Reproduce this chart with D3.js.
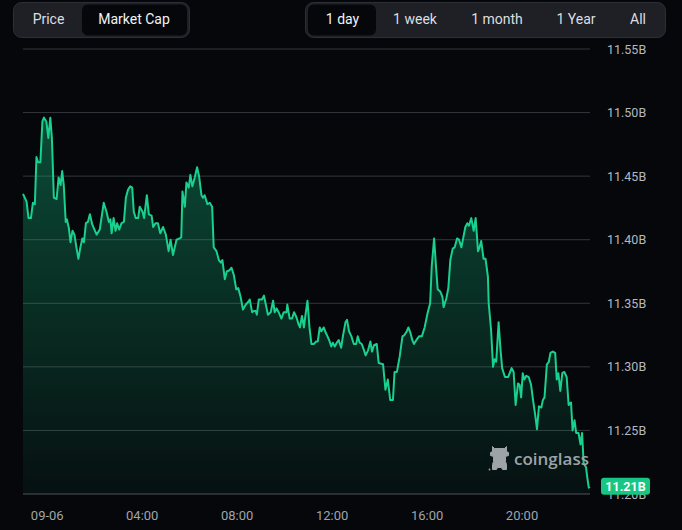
<!DOCTYPE html>
<html>
<head>
<meta charset="utf-8">
<script src="https://cdn.jsdelivr.net/npm/d3@7"></script>
<style>
  body { margin: 0; background: #05070b; }
  svg { display: block; font-family: Roboto, "Noto Sans", sans-serif; }
</style>
</head>
<body>
<div id="chart-container"></div>
<script>
// market cap, 1 day view (values in billions)
const startDay = new Date(2024, 8, 6, 0, 0);

// minutes from 09-06 00:00
const minutes = [
  -60,-51,-46,-40,-35,-30,-26,-22,-16,-11,-7,-1,4,9,13,18,25,30,35,39,
  43,48,51,56,60,65,70,75,80,85,90,94,99,104,109,115,126,134,144,151,
  157,161,164,169,174,178,183,189,195,200,205,211,216,220,225,231,235,242,246,
  253,258,265,269,275,281,287,294,301,308,313,319,328,336,340,343,349,353,359,363,
  368,374,380,385,391,395,399,406,412,418,422,429,435,440,444,450,455,462,467,473,
  479,484,490,496,503,509,513,519,523,528,531,536,
  544,549,553,559,566,572,576,581,586,593,599,606,608,614,620,625,631,637,640,645,
  650,654,659,664,669,675,681,685,690,694,700,705,711,715,719,723,728,733,738,744,
  749,755,759,764,770,776,782,786,791,796,802,806,812,818,822,827,
  834,839,850,856,862,868,875,879,885,892,899,904,910,914,919,924,928,934,941,948,
  955,963,969,973,979,984,988,995,1000,1003,1010,1015,1020,1026,1031,1037,1042,1048,1053,1058,
  1063,1067,1073,1079,1084,1090,1094,1098,1104,1109,1115,1117,
  1123,1128,1132,1136,1142,1147,1151,1158,1166,1175,1180,1185,1191,1195,1199,1203,1207,1212,1218,1224,
  1229,1235,1239,1244,1250,1254,1258,1264,1269,1273,1279,1285,1289,1293,1298,1303,1308,1314,1319,1325,
  1329,1334,1338,1344,1349,1353,1357,1363,1367,1370,1373
];

const marketCap = [
  11.436,11.430,11.417,11.417,11.429,11.428,11.465,11.461,11.461,11.493,11.496,11.493,11.480,11.496,11.480,11.433,11.432,11.449,11.443,11.454,
  11.443,11.414,11.416,11.409,11.398,11.407,11.404,11.394,11.385,11.394,11.401,11.398,11.413,11.414,11.420,11.412,11.404,11.408,11.429,11.422,
  11.414,11.416,11.405,11.417,11.407,11.413,11.408,11.413,11.414,11.433,11.439,11.442,11.441,11.422,11.417,11.417,11.426,11.422,11.417,
  11.435,11.420,11.419,11.410,11.413,11.413,11.405,11.410,11.404,11.391,11.400,11.388,11.400,11.401,11.402,11.438,11.426,11.445,11.441,11.451,
  11.442,11.449,11.457,11.450,11.435,11.433,11.435,11.428,11.429,11.426,11.394,11.391,11.384,11.382,11.384,11.369,11.375,11.376,11.378,11.372,
  11.361,11.362,11.355,11.345,11.349,11.351,11.353,11.343,11.344,11.344,11.341,11.353,
  11.353,11.356,11.350,11.341,11.343,11.352,11.343,11.346,11.343,11.338,11.343,11.343,11.349,11.338,11.338,11.343,11.339,11.333,11.331,11.340,
  11.331,11.341,11.352,11.331,11.318,11.318,11.320,11.320,11.331,11.328,11.331,11.327,11.323,11.320,11.316,11.319,11.316,11.319,11.321,11.315,
  11.325,11.335,11.337,11.328,11.324,11.318,11.318,11.324,11.319,11.318,11.313,11.309,11.313,11.320,11.312,11.317,
  11.318,11.303,11.302,11.282,11.290,11.274,11.274,11.296,11.296,11.308,11.324,11.325,11.328,11.331,11.327,11.321,11.318,11.321,11.324,11.324,
  11.331,11.343,11.350,11.379,11.401,11.378,11.361,11.359,11.355,11.347,11.354,11.362,11.384,11.393,11.394,11.401,11.400,11.394,11.402,11.410,
  11.413,11.411,11.417,11.407,11.417,11.391,11.394,11.399,11.385,11.385,11.371,11.350,
  11.329,11.300,11.306,11.304,11.335,11.313,11.299,11.292,11.292,11.299,11.296,11.270,11.287,11.286,11.276,11.295,11.290,11.293,11.292,11.286,
  11.274,11.261,11.251,11.269,11.268,11.274,11.276,11.302,11.304,11.311,11.312,11.311,11.290,11.295,11.281,11.295,11.296,11.292,11.270,11.272,
  11.250,11.258,11.248,11.248,11.239,11.248,11.224,11.221,11.211,11.205,11.206
];

const yTicks = [11.20, 11.25, 11.30, 11.35, 11.40, 11.45, 11.50, 11.55];
const views = ["Price", "Market Cap"];
const ranges = ["1 day", "1 week", "1 month", "1 Year", "All"];

const data = minutes.map((m, i) => ({
  date: d3.timeMinute.offset(startDay, m),
  value: marketCap[i]
}));

// dimensions
const W = 682, H = 530;
const plot = {left: 23, right: 590, top: 49, bottom: 494};

const x = d3.scaleTime()
  .domain(d3.extent(data, d => d.date))
  .range([plot.left, plot.right]);
const y = d3.scaleLinear()
  .domain([11.20, 11.55])
  .range([plot.bottom, plot.top]);

const svg = d3.select("#chart-container")
  .append("svg")
  .attr("width", W)
  .attr("height", H);

svg.append("rect").attr("width", W).attr("height", H).attr("fill", "#05070b");

// gradient for area
const defs = svg.append("defs");
const grad = defs.append("linearGradient")
  .attr("id", "areaFill")
  .attr("gradientUnits", "userSpaceOnUse")
  .attr("x1", 0).attr("x2", 0)
  .attr("y1", plot.top + 60).attr("y2", plot.bottom);
grad.append("stop").attr("offset", "0%").attr("stop-color", "#16c784").attr("stop-opacity", 0.36);
grad.append("stop").attr("offset", "100%").attr("stop-color", "#16c784").attr("stop-opacity", 0.05);

// horizontal gridlines
svg.selectAll(".grid")
  .data(yTicks)
  .join("line")
  .attr("x1", plot.left)
  .attr("x2", plot.right)
  .attr("y1", d => y(d))
  .attr("y2", d => y(d))
  .attr("stroke", d => d === 11.20 ? "#4f535a" : "#33363c")
  .attr("stroke-width", 1);

// area + line
const area = d3.area()
  .x(d => x(d.date))
  .y0(y(11.20))
  .y1(d => y(d.value));

const line = d3.line()
  .x(d => x(d.date))
  .y(d => y(d.value));

svg.append("path")
  .datum(data)
  .attr("fill", "url(#areaFill)")
  .attr("d", area);

svg.append("path")
  .datum(data)
  .attr("fill", "none")
  .attr("stroke", "#19d08e")
  .attr("stroke-width", 2)
  .attr("stroke-linejoin", "round")
  .attr("d", line);

// y axis on the right
svg.append("g")
  .attr("transform", `translate(${plot.right + 7},0)`)
  .style("font-size", "12.5px")
  .call(d3.axisRight(y)
    .tickValues(yTicks)
    .tickFormat(d => d.toFixed(2) + "B")
    .tickSize(0)
    .tickPadding(10))
  .call(g => g.select(".domain").remove())
  .selectAll(".tick text")
  .attr("fill", "#b4b8bf")
  .style("font-family", "Roboto, sans-serif");

// x axis
svg.append("g")
  .attr("transform", `translate(0,${plot.bottom})`)
  .style("font-size", "13px")
  .call(d3.axisBottom(x)
    .ticks(d3.timeHour.every(4))
    .tickFormat(d => d.getHours() === 0 ? d3.timeFormat("%m-%d")(d) : d3.timeFormat("%H:%M")(d))
    .tickSize(0)
    .tickPadding(17))
  .call(g => g.select(".domain").remove())
  .selectAll(".tick text")
  .attr("fill", "#a0a4aa")
  .style("font-family", "Roboto, sans-serif");

// last value tag
const last = data[data.length - 1];
const tag = svg.append("g").attr("transform", `translate(601,${y(last.value)})`);
tag.append("rect")
  .attr("x", 0).attr("y", -8.5)
  .attr("width", 49).attr("height", 17)
  .attr("rx", 3)
  .attr("fill", "#17c683");
tag.append("text")
  .attr("x", 24.5).attr("y", 0)
  .attr("dy", "0.35em")
  .attr("text-anchor", "middle")
  .style("font-size", "12.5px")
  .style("font-weight", "bold")
  .attr("fill", "#ffffff")
  .text(last.value.toFixed(2) + "B");

// watermark
const mark = svg.append("g").attr("transform", "translate(499.5,458.5)").attr("fill", "#9ea3a8");
mark.append("path")
  .attr("stroke", "#9ea3a8")
  .attr("stroke-width", 1)
  .attr("stroke-linejoin", "round")
  .attr("d", "M-7,-12 L-5,-10 L5,-10 L7,-12 L7,-7 L9,-6 L9,-3 L6,-2 L6,3 L7,6 L7,11 L3,11 L2,9 L-2,9 L-3,11 L-7,11 L-7,6 L-6,3 L-6,-2 L-9,-3 L-9,-6 L-7,-7 Z");
mark.append("circle").attr("cx", -10).attr("cy", 11).attr("r", 0.9);
svg.append("text")
  .attr("x", 514)
  .attr("y", 465)
  .style("font-family", "'Open Sans', sans-serif")
  .style("font-size", "17px")
  .style("font-weight", 600)
  .attr("fill", "#9ea3a8")
  .text("coinglass");

// toggle groups at the top
function buttonGroup(x0, width, labels, centers, sel, selBox) {
  const g = svg.append("g");
  g.append("rect")
    .attr("x", x0 + 0.5).attr("y", 2.5)
    .attr("width", width).attr("height", 35)
    .attr("rx", 8)
    .attr("fill", "#1e2026")
    .attr("stroke", "#2c2f35");
  g.append("rect")
    .attr("x", selBox[0]).attr("y", 4.5)
    .attr("width", selBox[1]).attr("height", 31)
    .attr("rx", 6)
    .attr("fill", "#05070b");
  g.selectAll("text")
    .data(labels)
    .join("text")
    .attr("x", (d, i) => centers[i])
    .attr("y", 19.5)
    .attr("dy", "0.35em")
    .attr("text-anchor", "middle")
    .style("font-size", "14px")
    .attr("fill", (d, i) => i === sel ? "#f2f3f5" : "#dcdee2")
    .text(d => d);
}

buttonGroup(13, 176, views, [48.5, 134], 1, [82, 105]);
buttonGroup(305, 360, ranges, [342.5, 415, 497, 576, 638], 0, [308, 68]);
</script>
</body>
</html>
